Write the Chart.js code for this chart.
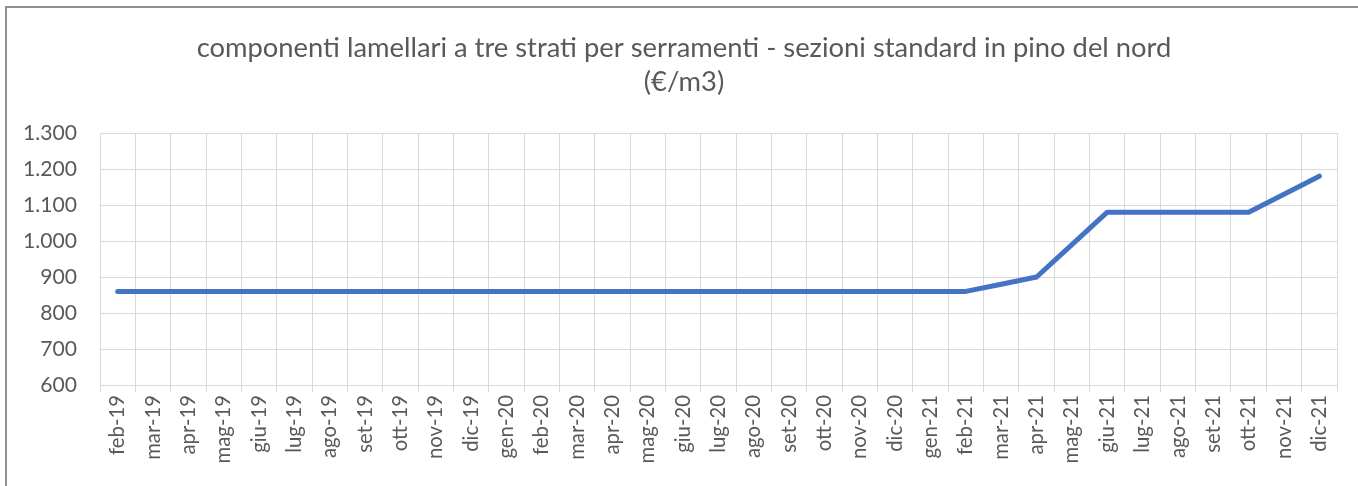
<!DOCTYPE html>
<html>
<head>
<meta charset="utf-8">
<script src="https://cdn.jsdelivr.net/npm/chart.js@4.4.0/dist/chart.umd.min.js"></script>
<style>
html,body{margin:0;padding:0;background:#fff;overflow:hidden;}
#wrap{position:relative;width:1358px;height:486px;}
#frame{position:absolute;left:5px;top:6px;width:1400px;height:600px;border-top:2px solid #909090;border-left:2px solid #909090;box-sizing:border-box;pointer-events:none;}
canvas{position:absolute;left:0;top:0;}
</style>
</head>
<body>
<div id="wrap">
<canvas id="c" width="1358" height="486"></canvas>
<div id="frame"></div>
</div>
<script>
const titleLines = ["componenti lamellari a tre strati per serramenti - sezioni standard in pino del nord", "(€/m3)"];
const categories = ["feb-19","mar-19","apr-19","mag-19","giu-19","lug-19","ago-19","set-19","ott-19","nov-19","dic-19",
  "gen-20","feb-20","mar-20","apr-20","mag-20","giu-20","lug-20","ago-20","set-20","ott-20","nov-20","dic-20",
  "gen-21","feb-21","mar-21","apr-21","mag-21","giu-21","lug-21","ago-21","set-21","ott-21","nov-21","dic-21"];
const prices = [860,860,860,860,860,860,860,860,860,860,860,
  860,860,860,860,860,860,860,860,860,860,860,860,
  860,860,880,900,990,1080,1080,1080,1080,1080,1130,1180];
const yMin = 600, yMax = 1300, yStep = 100;

const FAMILY = "Lato, 'Noto Sans', sans-serif";
const mctx = document.createElement('canvas').getContext('2d');
function fit(text, target){ mctx.font = "100px " + FAMILY; return 100 * target / mctx.measureText(text).width; }
const titleSize = fit(titleLines[0], 975);
const ySize = fit("1.300", 54);
const xSize = fit("feb-19", 60);

function fmt(v){ return String(v).replace(/\B(?=(\d{3})+(?!\d))/g, "."); }

const TEXT = "#595959", GRID = "#d9d9d9";

const titlePlugin = {
  id: 'excelTitle',
  afterDraw(chart) {
    const ctx = chart.ctx;
    ctx.save();
    ctx.fillStyle = TEXT;
    ctx.font = titleSize + "px " + FAMILY;
    ctx.textAlign = 'center';
    ctx.textBaseline = 'middle';
    titleLines.forEach((t, i) => ctx.fillText(t, 684, 48 + i * 34));
    ctx.restore();
  }
};

new Chart(document.getElementById('c'), {
  type: 'line',
  data: {
    labels: categories,
    datasets: [{
      data: prices,
      borderColor: '#4472C4',
      borderWidth: 5,
      borderCapStyle: 'round',
      borderJoinStyle: 'round',
      pointRadius: 0,
      tension: 0,
      fill: false
    }]
  },
  plugins: [titlePlugin],
  options: {
    responsive: false,
    animation: false,
    devicePixelRatio: 1,
    layout: { padding: { left: 0, right: 21, top: 133, bottom: 0 } },
    plugins: {
      legend: { display: false },
      tooltip: { enabled: false },
      title: { display: false }
    },
    scales: {
      x: {
        type: 'category',
        offset: true,
        grid: { color: GRID, lineWidth: 1, offset: true, drawTicks: true, tickLength: 7, tickColor: GRID },
        border: { color: GRID, width: 1 },
        ticks: { color: TEXT, font: { family: FAMILY, size: xSize }, maxRotation: 90, minRotation: 90, autoSkip: false, padding: 3 },
        afterFit: s => { s.height = 101; }
      },
      y: {
        min: yMin, max: yMax,
        grid: { color: GRID, lineWidth: 1, drawTicks: false },
        border: { display: false },
        ticks: { stepSize: yStep, color: TEXT, font: { family: FAMILY, size: ySize }, padding: 23, callback: v => fmt(v) },
        afterFit: s => { s.width = 100; }
      }
    }
  }
});
</script>
</body>
</html>
